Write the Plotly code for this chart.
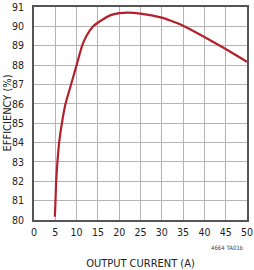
import plotly.graph_objects as go

current = [4.9, 5.05, 5.2, 5.5, 5.9, 6.55, 7.4, 8.7, 10.0, 11.3, 12.3, 13.9, 15.4, 18.0, 20.0, 22.0, 25.0, 30.0, 32.0, 35.0, 40.0, 45.0, 50.0]
efficiency = [80.17, 81.0, 82.0, 83.0, 84.0, 85.0, 86.0, 87.0, 88.0, 89.0, 89.5, 90.0, 90.25, 90.58, 90.68, 90.71, 90.66, 90.45, 90.3, 90.03, 89.45, 88.83, 88.17]
x_ticks = list(range(0, 51, 5))
y_ticks = list(range(80, 92))

FONT = "DejaVu Sans Condensed, Liberation Sans Narrow, sans-serif"

fig = go.Figure()
fig.add_trace(go.Scatter(x=current, y=efficiency, mode="lines",
                         line=dict(color="#b3202c", width=2.2, shape="spline", smoothing=0.5),
                         hoverinfo="skip"))

axis_common = dict(showgrid=True, gridcolor="#b4b4b4", gridwidth=1,
                   showline=True, linecolor="#555555", linewidth=1.5, mirror=True,
                   ticks="outside", tickcolor="rgba(0,0,0,0)", zeroline=False, automargin=False,
                   tickfont=dict(family=FONT, size=10.5, color="#222"))

fig.update_xaxes(range=[0, 50], tickvals=x_ticks, ticktext=[str(v) for v in x_ticks], ticklen=2,
                 title=dict(text="OUTPUT CURRENT (A)", font=dict(family=FONT, size=11, color="#222"), standoff=24),
                 **axis_common)
fig.update_yaxes(range=[80, 91], tickvals=y_ticks, ticktext=[str(v) for v in y_ticks], ticklen=6,
                 **axis_common)

fig.add_annotation(text="EFFICIENCY (%)", xref="paper", yref="paper", x=0, y=0.5, xshift=-27,
                   xanchor="center", yanchor="middle", textangle=-90, showarrow=False,
                   font=dict(family=FONT, size=11, color="#222"))
fig.add_annotation(text="4664 TA01b", xref="paper", yref="paper", x=0.995, y=-0.13,
                   xanchor="right", yanchor="middle", showarrow=False,
                   font=dict(family=FONT, size=6, color="#444"))

fig.update_layout(width=254, height=270, margin=dict(l=34, r=7, t=7, b=50),
                  paper_bgcolor="white", plot_bgcolor="white", showlegend=False)

fig.write_html("out.html")
